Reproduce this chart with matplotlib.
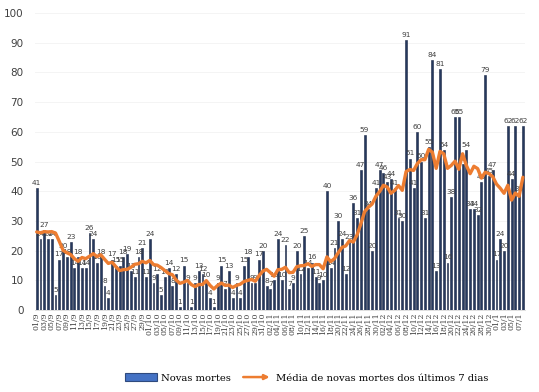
import matplotlib
matplotlib.use("Agg")
import matplotlib.pyplot as plt
from matplotlib.patches import FancyArrowPatch, Patch
from matplotlib.legend_handler import HandlerBase
from matplotlib.lines import Line2D
import numpy as np

# dias: 01/09 ate 08/01
dias = [(d, 9) for d in range(1, 31)] + [(d, 10) for d in range(1, 32)] + \
       [(d, 11) for d in range(1, 31)] + [(d, 12) for d in range(1, 32)] + \
       [(d, 1) for d in range(1, 9)]
rotulos = ["%02d/%d" % (d, m) for d, m in dias]

novas_mortes = [41, 24, 27, 24, 24, 5, 17, 20, 18, 23,
                14, 18, 14, 14, 26, 24, 16, 18, 8, 4,
                17, 15, 15, 18, 19, 13, 11, 18, 21, 11,
                24, 9, 12, 5, 11, 14, 8, 12, 1, 15,
                9, 1, 9, 13, 12, 10, 4, 1, 9, 15,
                7, 13, 4, 9, 4, 15, 18, 9, 9, 17,
                20, 8, 7, 10, 24, 10, 22, 7, 9, 20,
                12, 25, 14, 16, 11, 9, 10, 40, 14, 21,
                30, 24, 12, 23, 36, 31, 47, 59, 34, 20,
                41, 47, 46, 43, 44, 41, 31, 30, 91, 51,
                41, 60, 50, 31, 55, 84, 13, 81, 54, 16,
                38, 65, 65, 49, 54, 34, 34, 32, 43, 79,
                45, 47, 17, 24, 20, 62, 44, 62, 39, 62]

media_7d = [26.3, 26.0, 26.4, 26.3, 26.4, 25.9, 23.1, 20.1, 19.3, 18.7,
            17.3, 16.4, 17.7, 17.3, 18.1, 19.0, 18.0, 18.6, 17.1, 15.7,
            16.1, 14.6, 13.3, 13.6, 13.7, 14.4, 15.4, 15.6, 16.4, 15.9,
            16.7, 15.3, 15.1, 14.3, 13.3, 12.3, 11.9, 10.1, 9.0, 9.4,
            10.0, 8.6, 7.9, 8.6, 8.6, 9.9, 8.3, 7.1, 8.3, 9.1,
            8.3, 8.4, 7.6, 8.3, 8.7, 9.6, 10.0, 10.3, 9.7, 11.6,
            13.1, 13.7, 12.6, 11.4, 13.6, 13.7, 14.4, 12.6, 12.7, 14.6,
            14.9, 15.0, 15.6, 14.7, 15.3, 15.3, 13.9, 17.9, 16.3, 17.3,
            19.3, 21.1, 21.6, 23.4, 22.9, 25.3, 29.0, 33.1, 34.6, 35.7,
            38.3, 39.9, 42.0, 41.4, 39.3, 40.3, 41.9, 40.3, 46.6, 47.3,
            47.0, 49.3, 50.6, 50.6, 54.1, 53.1, 47.7, 53.4, 52.6, 47.7,
            48.7, 50.1, 47.4, 52.6, 48.7, 45.9, 48.4, 47.6, 44.4, 46.4,
            45.9, 44.9, 42.4, 41.0, 39.3, 42.0, 37.0, 39.4, 38.3, 44.7]

corBarra = '#26395E'
corBorda = '#1B2744'
corLinha = '#ED7D31'

x = np.arange(len(novas_mortes))

fig = plt.figure(figsize=(5.39, 3.92), dpi=100)
ax = fig.add_axes([0.0646, 0.209, 0.909, 0.758])

barras = ax.bar(x, novas_mortes, width=0.5, color=corBarra, edgecolor=corBorda, linewidth=0.4, zorder=2)
ax.bar_label(barras, fontsize=5.3, padding=1.5, color='#404040', family='DejaVu Sans')
ax.plot(x, media_7d, color=corLinha, linewidth=2.4, zorder=3, solid_capstyle='round')

ax.set_xlim(-0.5, len(x) - 0.5)
ax.set_ylim(0, 100)
ax.set_yticks(range(0, 101, 10))
ax.tick_params(axis='y', length=0, labelsize=7.5, labelcolor='#404040', pad=8)
ax.set_xticks(x[::2])
ax.set_xticklabels(rotulos[::2], rotation=90, fontsize=5.6, family='DejaVu Serif', color='#404040')
ax.tick_params(axis='x', length=0, pad=2)
ax.grid(axis='y', color='#F2F2F2', linewidth=0.6, zorder=0)
for s in ['top', 'right', 'left']:
    ax.spines[s].set_visible(False)
ax.spines['bottom'].set_color('#D9D9D9')
ax.spines['bottom'].set_linewidth(0.6)


class SetaLegenda(HandlerBase):
    def create_artists(self, legend, orig_handle, xdescent, ydescent, width, height, fontsize, trans):
        seta = FancyArrowPatch((-xdescent, height / 2 - ydescent), (width - xdescent, height / 2 - ydescent),
                               arrowstyle='-|>', mutation_scale=7, color=corLinha, lw=1.8, transform=trans)
        return [seta]


h1 = Patch(facecolor='#4472C4', edgecolor='#2F4A7E', linewidth=0.8)
h2 = Line2D([], [], color=corLinha)
fig.legend([h1, h2], ['Novas mortes', 'Média de novas mortes dos últimos 7 dias'],
           loc='center', bbox_to_anchor=(0.569, 0.036), ncol=2, frameon=False,
           prop={'family': 'DejaVu Serif', 'size': 7.2}, handlelength=3.2, handleheight=0.8,
           columnspacing=1.0, handletextpad=0.4, handler_map={Line2D: SetaLegenda()})

fig.savefig('out.png', dpi=100)
